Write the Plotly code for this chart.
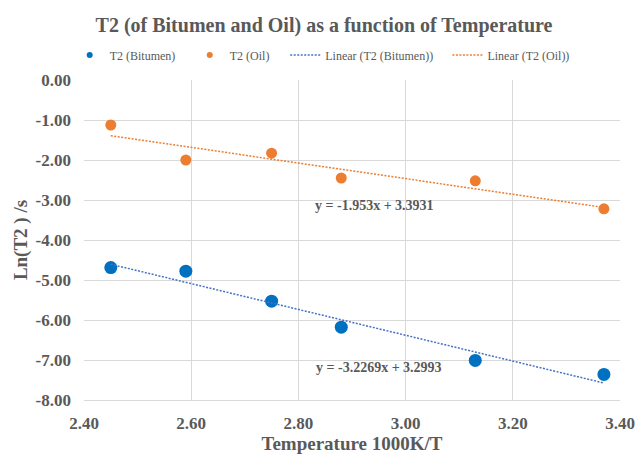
import plotly.graph_objects as go

# Data
x_temp = [2.45, 2.59, 2.75, 2.88, 3.13, 3.37]
t2_bitumen = [-4.69, -4.78, -5.53, -6.18, -7.01, -7.36]
t2_oil = [-1.125, -2.00, -1.83, -2.45, -2.52, -3.22]

# Trendline coefficients (as shown in chart)
bit_slope, bit_icpt = -3.2269, 3.2993
oil_slope, oil_icpt = -1.953, 3.3931

y_ticks = [0, -1, -2, -3, -4, -5, -6, -7, -8]
y_ticklabels = ["0.00", "-1.00", "-2.00", "-3.00", "-4.00", "-5.00", "-6.00", "-7.00", "-8.00"]
x_ticks = [2.4, 2.6, 2.8, 3.0, 3.2, 3.4]
x_ticklabels = ["2.40", "2.60", "2.80", "3.00", "3.20", "3.40"]

BLUE = "#0070C0"
ORANGE = "#ED7D31"
LINE_BLUE = "#4472C4"
GREY = "#595959"
FONT = "Liberation Serif"
DOT = "2px,1.5px"

xmin, xmax = min(x_temp), max(x_temp)
bit_line_y = [bit_slope * xmin + bit_icpt, bit_slope * xmax + bit_icpt]
oil_line_y = [oil_slope * xmin + oil_icpt, oil_slope * xmax + oil_icpt]

fig = go.Figure()
fig.add_trace(go.Scatter(x=x_temp, y=t2_bitumen, mode="markers", name="T2 (Bitumen)",
                         marker=dict(color=BLUE, size=13), showlegend=False))
fig.add_trace(go.Scatter(x=x_temp, y=t2_oil, mode="markers", name="T2 (Oil)",
                         marker=dict(color=ORANGE, size=11), showlegend=False))
fig.add_trace(go.Scatter(x=[xmin, xmax], y=bit_line_y, mode="lines", name="Linear (T2 (Bitumen))",
                         line=dict(color=LINE_BLUE, width=1.5, dash=DOT), showlegend=False))
fig.add_trace(go.Scatter(x=[xmin, xmax], y=oil_line_y, mode="lines", name="Linear (T2 (Oil))",
                         line=dict(color=ORANGE, width=1.5, dash=DOT), showlegend=False))

fig.add_trace(go.Scatter(x=[None], y=[None], mode="markers", name="T2 (Bitumen)",
                         marker=dict(color=BLUE, size=6), legend="legend"))
fig.add_trace(go.Scatter(x=[None], y=[None], mode="markers", name="T2 (Oil)",
                         marker=dict(color=ORANGE, size=6), legend="legend2"))
fig.add_trace(go.Scatter(x=[None], y=[None], mode="lines", name="Linear (T2 (Bitumen))",
                         line=dict(color=LINE_BLUE, width=1.5, dash=DOT), legend="legend3"))
fig.add_trace(go.Scatter(x=[None], y=[None], mode="lines", name="Linear (T2 (Oil))",
                         line=dict(color=ORANGE, width=1.5, dash=DOT), legend="legend4"))

fig.add_annotation(x=2.9414, y=-3.125, text="<b>y = -1.953x + 3.3931</b>", showarrow=False,
                   font=dict(family=FONT, size=14, color=GREY))
fig.add_annotation(x=2.9507, y=-7.18, text="<b>y = -3.2269x + 3.2993</b>", showarrow=False,
                   font=dict(family=FONT, size=14, color=GREY))

W, H = 638, 454
LEG_Y = 1.078


def leg(x):
    return dict(orientation="h", x=x, xanchor="left", y=LEG_Y, yanchor="middle",
                font=dict(family=FONT, size=12, color=GREY), itemwidth=30,
                bgcolor="rgba(0,0,0,0)")


fig.update_layout(
    width=W, height=H,
    margin=dict(l=84, r=18, t=80, b=54, autoexpand=False),
    paper_bgcolor="white", plot_bgcolor="white",
    font=dict(family=FONT, color=GREY),
    title=dict(text="<b>T2 (of Bitumen and Oil) as a function of Temperature</b>",
               x=324 / W, xanchor="center", y=1 - 25 / H, yanchor="middle",
               font=dict(family=FONT, size=20, color=GREY)),
    legend=leg(-0.0267), legend2=leg(0.1973), legend3=leg(0.3754), legend4=leg(0.6780),
    showlegend=True,
)
fig.update_xaxes(range=[2.4, 3.4], tickvals=x_ticks, ticktext=x_ticklabels,
                 showgrid=True, gridcolor="#D9D9D9", gridwidth=1, zeroline=False,
                 showline=True, linecolor="#D9D9D9",
                 tickfont=dict(family=FONT, size=17, color=GREY, weight="bold"),
                 ticklabelstandoff=8, ticklabeloverflow="allow",
                 title=dict(text="<b>Temperature 1000K/T</b>", standoff=6,
                            font=dict(family=FONT, size=19, color=GREY)))
fig.update_yaxes(range=[-8, 0], tickvals=y_ticks, ticktext=y_ticklabels,
                 showgrid=True, gridcolor="#D9D9D9", gridwidth=1, zeroline=False,
                 showline=False,
                 tickfont=dict(family=FONT, size=17, color=GREY, weight="bold"),
                 ticklabelstandoff=12, ticklabeloverflow="allow",
                 title=dict(text="<b>Ln(T2 ) /s</b>", standoff=2,
                            font=dict(family=FONT, size=19, color=GREY)))

fig.write_html("out.html", config={"displayModeBar": False},
               post_script="document.body.style.margin='0px';document.body.style.overflow='hidden';")
